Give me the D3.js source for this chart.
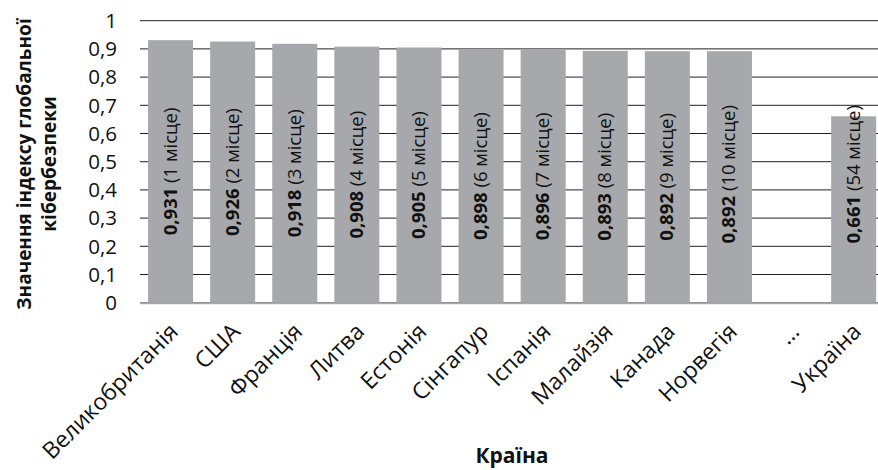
<!DOCTYPE html>
<html><head><meta charset="utf-8">
<script src="https://cdn.jsdelivr.net/npm/d3@7"></script>
<style>body{margin:0;background:#fff}svg{display:block}text{font-family:"Open Sans",sans-serif;fill:#111}</style>
</head><body><svg id="c" width="878" height="470"></svg>
<script>
const categories = ["Великобританія","США","Франція","Литва","Естонія","Сінгапур","Іспанія","Малайзія","Канада","Норвегія","…","Україна"];
const values = [0.931,0.926,0.918,0.908,0.905,0.898,0.896,0.893,0.892,0.892,null,0.661];
const ranks = [1,2,3,4,5,6,7,8,9,10,null,54];
const yTicks = [0,0.1,0.2,0.3,0.4,0.5,0.6,0.7,0.8,0.9,1];
const yTickLabels = ["0","0,1","0,2","0,3","0,4","0,5","0,6","0,7","0,8","0,9","1"];
const yTitle = ["Значення індексу глобальної","кібербезпеки"];
const xTitle = "Країна";

const W = 878, H = 470;
const svg = d3.select("#c");
const x = d3.scaleBand().domain(categories).range([139.5, 884.7]).paddingInner(0.275).paddingOuter(0.1375);
const y = d3.scaleLinear().domain([0,1]).range([302.7, 20.7]);
const fmt = v => v.toFixed(3).replace(".", ",");

// gridlines
svg.append("g").selectAll("line").data(yTicks).join("line")
  .attr("x1", 140).attr("x2", W).attr("y1", d => y(d)).attr("y2", d => y(d))
  .attr("stroke", "#231f20").attr("stroke-width", 1);

// y tick labels
svg.append("g").selectAll("text").data(yTicks).join("text")
  .attr("x", 117).attr("y", d => y(d)).attr("dy", "0.36em")
  .attr("text-anchor", "end").attr("font-size", 20.5)
  .text((d, i) => yTickLabels[i]);

const data = categories.map((c, i) => ({c, v: values[i], r: ranks[i]}));
const bars = data.filter(d => d.v != null);

svg.append("g").selectAll("rect").data(bars).join("rect")
  .attr("x", d => x(d.c)).attr("width", x.bandwidth())
  .attr("y", d => y(d.v)).attr("height", d => y(0) - y(d.v))
  .attr("fill", "#a7a8ab");

// baseline axis
svg.append("line").attr("x1", 140).attr("x2", W).attr("y1", y(0)+0.5).attr("y2", y(0)+0.5)
  .attr("stroke", "#a7a8ab").attr("stroke-width", 2);

// bar labels
const lbl = svg.append("g").selectAll("text").data(bars).join("text")
  .attr("font-size", 18.5).attr("text-anchor", "middle").attr("dominant-baseline", "central");
lbl.append("tspan").attr("font-weight", "bold").text(d => fmt(d.v));
lbl.append("tspan").text(d => " (" + d.r + " місце)");
lbl.each(function(d) {
  const t = d3.select(this);
  const len = this.getComputedTextLength();
  const cx = x(d.c) + x.bandwidth() / 2 - 2;
  const mid = (y(d.v) + y(0)) / 2;
  let start = mid + len / 2;
  start = Math.min(start, y(0.21));
  const cy = start - len / 2;
  t.attr("transform", `translate(${cx},${cy}) rotate(-90)`);
});

// x labels
svg.append("g").selectAll("text").data(categories).join("text")
  .attr("font-size", 23).attr("text-anchor", "end")
  .attr("transform", d => `translate(${x(d) + x.bandwidth()/2 + 9},${333}) rotate(-45)`)
  .text(d => d);

// axis titles
svg.append("text").attr("x", 512).attr("y", 463).attr("text-anchor", "middle")
  .attr("font-size", 21).attr("font-weight", "bold").text(xTitle);
const yt = svg.append("text").attr("transform", "translate(0,164) rotate(-90)")
  .attr("text-anchor", "middle").attr("font-size", 19).attr("font-weight", "bold");
yTitle.forEach((s, i) => yt.append("tspan").attr("x", 0).attr("y", 31 + i * 25).text(s));
</script></body></html>
